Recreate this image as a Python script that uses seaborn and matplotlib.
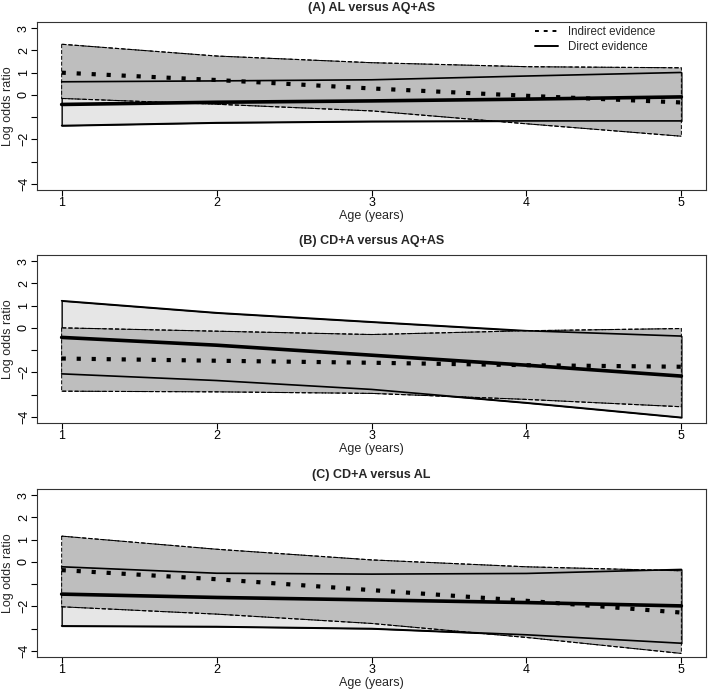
import seaborn as sns
import pandas as pd
import matplotlib.pyplot as plt
from matplotlib.lines import Line2D

age = [1, 2, 3, 4, 5]

titles = ["(A) AL versus AQ+AS", "(B) CD+A versus AQ+AS", "(C) CD+A versus AL"]

# indirect evidence
a_ind_mean = [1.0, 0.67, 0.29, -0.04, -0.34]
a_ind_lo = [-0.16, -0.42, -0.72, -1.30, -1.86]
a_ind_hi = [2.28, 1.75, 1.45, 1.27, 1.22]
# direct evidence
a_dir_mean = [-0.43, -0.33, -0.27, -0.19, -0.09]
a_dir_lo = [-1.38, -1.25, -1.19, -1.17, -1.17]
a_dir_hi = [0.59, 0.63, 0.68, 0.85, 1.01]

b_ind_mean = [-1.38, -1.48, -1.57, -1.68, -1.75]
b_ind_lo = [-2.85, -2.88, -2.95, -3.22, -3.55]
b_ind_hi = [0.0, -0.15, -0.30, -0.13, -0.03]
b_dir_mean = [-0.43, -0.78, -1.23, -1.68, -2.17]
b_dir_lo = [-2.07, -2.37, -2.77, -3.37, -4.03]
b_dir_hi = [1.22, 0.68, 0.27, -0.13, -0.37]

c_ind_mean = [-0.37, -0.78, -1.27, -1.75, -2.28]
c_ind_lo = [-2.02, -2.35, -2.77, -3.40, -4.12]
c_ind_hi = [1.16, 0.57, 0.09, -0.22, -0.40]
c_dir_mean = [-1.45, -1.60, -1.71, -1.83, -1.98]
c_dir_lo = [-2.88, -2.91, -3.00, -3.28, -3.66]
c_dir_hi = [-0.22, -0.51, -0.55, -0.52, -0.34]

panels = [
    (a_ind_mean, a_ind_lo, a_ind_hi, a_dir_mean, a_dir_lo, a_dir_hi),
    (b_ind_mean, b_ind_lo, b_ind_hi, b_dir_mean, b_dir_lo, b_dir_hi),
    (c_ind_mean, c_ind_lo, c_ind_hi, c_dir_mean, c_dir_lo, c_dir_hi),
]

sns.set_style("ticks")
plt.rcParams["font.family"] = ["Liberation Sans", "DejaVu Sans"]
plt.rcParams["font.size"] = 9

fig = plt.figure(figsize=(7.09, 6.9), dpi=100)
bottoms = [0.7246, 0.387, 0.0478]

for i, (title, vals) in enumerate(zip(titles, panels)):
    ind_mean, ind_lo, ind_hi, dir_mean, dir_lo, dir_hi = vals
    df = pd.DataFrame({"age": age, "ind_mean": ind_mean, "ind_lo": ind_lo,
                       "ind_hi": ind_hi, "dir_mean": dir_mean,
                       "dir_lo": dir_lo, "dir_hi": dir_hi})
    ax = fig.add_axes([0.052, bottoms[i], 0.944, 0.2435])

    ax.fill_between(df["age"], df["dir_lo"], df["dir_hi"], color="#e6e6e6",
                    edgecolor="black", linewidth=1.0, zorder=1)
    ax.fill_between(df["age"], df["ind_lo"], df["ind_hi"], color="#bebebe",
                    edgecolor="black", linewidth=0.7, linestyle=(0, (4, 2)),
                    zorder=2)

    sns.lineplot(data=df, x="age", y="ind_lo", ax=ax, color="black",
                 linewidth=0.8, linestyle=(0, (4, 2)), zorder=3)
    sns.lineplot(data=df, x="age", y="ind_hi", ax=ax, color="black",
                 linewidth=0.8, linestyle=(0, (4, 2)), zorder=3)
    sns.lineplot(data=df, x="age", y="dir_lo", ax=ax, color="black",
                 linewidth=1.2, zorder=4)
    sns.lineplot(data=df, x="age", y="dir_hi", ax=ax, color="black",
                 linewidth=1.2, zorder=4)
    sns.lineplot(data=df, x="age", y="dir_mean", ax=ax, color="black",
                 linewidth=2.6, zorder=5)
    sns.lineplot(data=df, x="age", y="ind_mean", ax=ax, color="black",
                 linewidth=3.0, linestyle=(0, (1, 2.6)),
                 dash_capstyle="butt", zorder=6)

    ax.set_xlim(0.84, 5.16)
    ax.set_ylim(-4.28, 3.28)
    ax.set_xticks(age)
    ax.set_yticks([-4, -3, -2, -1, 0, 1, 2, 3])
    ax.set_yticklabels(["\u22124", "", "\u22122", "", "0", "1", "2", "3"],
                       rotation=90, va="center")
    ax.tick_params(direction="out", length=4, width=0.8, colors="black",
                   labelsize=9, pad=1)
    for s in ax.spines.values():
        s.set_linewidth(0.8)
        s.set_color("#333333")
    ax.set_xlabel("Age (years)", fontsize=9, labelpad=1)
    ax.set_ylabel("Log odds ratio", fontsize=9, labelpad=3)
    ax.set_title(title, fontsize=9, fontweight="bold", pad=8)

    if i == 0:
        handles = [Line2D([], [], color="black", linewidth=1.4,
                          linestyle=(0, (2, 2.5))),
                   Line2D([], [], color="black", linewidth=1.4)]
        ax.legend(handles, ["Indirect evidence", "Direct evidence"],
                  loc="upper right", bbox_to_anchor=(0.94, 1.04),
                  frameon=False, fontsize=8.3, handlelength=2.0,
                  labelspacing=0.3, handletextpad=0.9)

plt.savefig("out.png", dpi=100)
